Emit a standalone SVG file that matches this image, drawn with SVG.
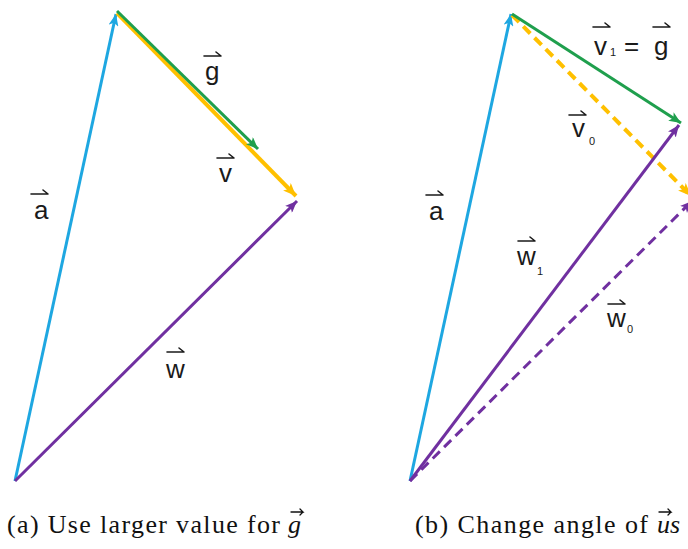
<svg xmlns="http://www.w3.org/2000/svg" width="688" height="549" viewBox="0 0 688 549">
<style>
.lbl{font-family:"Liberation Sans","Open Sans",sans-serif;font-size:26px;fill:#1a1a1a}
.sub{font-family:"Liberation Sans","Open Sans",sans-serif;font-size:11px;fill:#1a1a1a}
.cap{font-family:"Liberation Serif","DejaVu Serif",serif;font-size:26px;fill:#111}
.capi{font-family:"Liberation Serif","DejaVu Serif",serif;font-size:26px;font-style:italic;fill:#111}
.hp{fill:none;stroke:#1a1a1a;stroke-width:1.6;stroke-linecap:round;stroke-linejoin:round}
.cp{fill:none;stroke:#111;stroke-width:1.3;stroke-linecap:round}
.ln{fill:none;stroke-width:3}
.blue{stroke:#1EA7E1}
.green{stroke:#1F9F4D}
.yellow{stroke:#FFC000;stroke-width:4}
.purple{stroke:#7030A0}
.dash{stroke-dasharray:10 6}
</style>
<defs>
<marker id="mB" viewBox="0 0 12 10" refX="12" refY="5" markerWidth="12" markerHeight="10" markerUnits="userSpaceOnUse" orient="auto"><path d="M0,0 L12,5 L0,10 L3,5 z" fill="#1EA7E1"/></marker>
<marker id="mG" viewBox="0 0 12 10" refX="12" refY="5" markerWidth="12" markerHeight="10" markerUnits="userSpaceOnUse" orient="auto"><path d="M0,0 L12,5 L0,10 L3,5 z" fill="#1F9F4D"/></marker>
<marker id="mY" viewBox="0 0 12 10" refX="12" refY="5" markerWidth="13" markerHeight="11" markerUnits="userSpaceOnUse" orient="auto"><path d="M0,0 L12,5 L0,10 L3,5 z" fill="#FFC000"/></marker>
<marker id="mP" viewBox="0 0 12 10" refX="12" refY="5" markerWidth="12" markerHeight="10" markerUnits="userSpaceOnUse" orient="auto"><path d="M0,0 L12,5 L0,10 L3,5 z" fill="#7030A0"/></marker>
<path id="harp" d="M0,0 H17 L12,-4" class="hp"/>
<path id="charp" d="M0,0 H12 L9,-3 M12,0 L9,3" class="cp"/>
</defs>

<g id="connectors">
<!-- left diagram -->
<line id="a-left" class="ln blue" x1="15" y1="481" x2="116" y2="14" marker-end="url(#mB)"/>
<line id="v-left" class="ln yellow" x1="117" y1="13" x2="296" y2="196" marker-end="url(#mY)"/>
<line id="g-left" class="ln green" x1="117" y1="11" x2="258" y2="149" marker-end="url(#mG)"/>
<line id="w-left" class="ln purple" x1="15" y1="481" x2="297" y2="201" marker-end="url(#mP)"/>
<!-- right diagram -->
<line id="a-right" class="ln blue" x1="410" y1="481" x2="511" y2="14" marker-end="url(#mB)"/>
<line id="v0-right" class="ln yellow dash" x1="512" y1="15" x2="691" y2="196" marker-end="url(#mY)"/>
<line id="g-right" class="ln green" x1="512" y1="14" x2="681" y2="123" marker-end="url(#mG)"/>
<line id="w0-right" class="ln purple dash" x1="410" y1="481" x2="692" y2="201" marker-end="url(#mP)"/>
<line id="w1-right" class="ln purple" x1="410" y1="481" x2="679" y2="125" marker-end="url(#mP)"/>
</g>

<g id="label-a-left"><use href="#harp" x="31" y="194"/><text class="lbl" x="34" y="219">a</text></g>
<g id="label-g-left"><use href="#harp" x="204" y="56"/><text class="lbl" x="205" y="80">g</text></g>
<g id="label-v-left"><use href="#harp" x="217" y="158"/><text class="lbl" x="219" y="182">v</text></g>
<g id="label-w-left"><use href="#harp" x="167" y="352"/><text class="lbl" x="166" y="378">w</text></g>

<g id="label-a-right"><use href="#harp" x="426" y="195"/><text class="lbl" x="429" y="220">a</text></g>
<g id="label-v1g-right"><use href="#harp" x="593" y="27"/><text class="lbl" x="594" y="55">v</text><text class="sub" x="610" y="56">1</text><text class="lbl" x="624" y="55">=</text><use href="#harp" x="653" y="27"/><text class="lbl" x="654" y="55">g</text></g>
<g id="label-v0-right"><use href="#harp" x="569" y="115"/><text class="lbl" x="572" y="137">v</text><text class="sub" x="589" y="145">0</text></g>
<g id="label-w1-right"><use href="#harp" x="518" y="241"/><text class="lbl" x="517" y="265">w</text><text class="sub" x="537" y="275">1</text></g>
<g id="label-w0-right"><use href="#harp" x="608" y="304"/><text class="lbl" x="607" y="327">w</text><text class="sub" x="627" y="333">0</text></g>

<g id="caption-a"><text class="cap" x="7" y="533" textLength="273" lengthAdjust="spacing">(a) Use larger value for</text><text class="capi" x="288" y="533">g</text><use href="#charp" x="291" y="512"/></g>
<g id="caption-b"><text class="cap" x="415" y="533" textLength="233" lengthAdjust="spacing">(b) Change angle of</text><text class="capi" x="657" y="533">us</text><use href="#charp" x="659" y="512"/></g>
</svg>
